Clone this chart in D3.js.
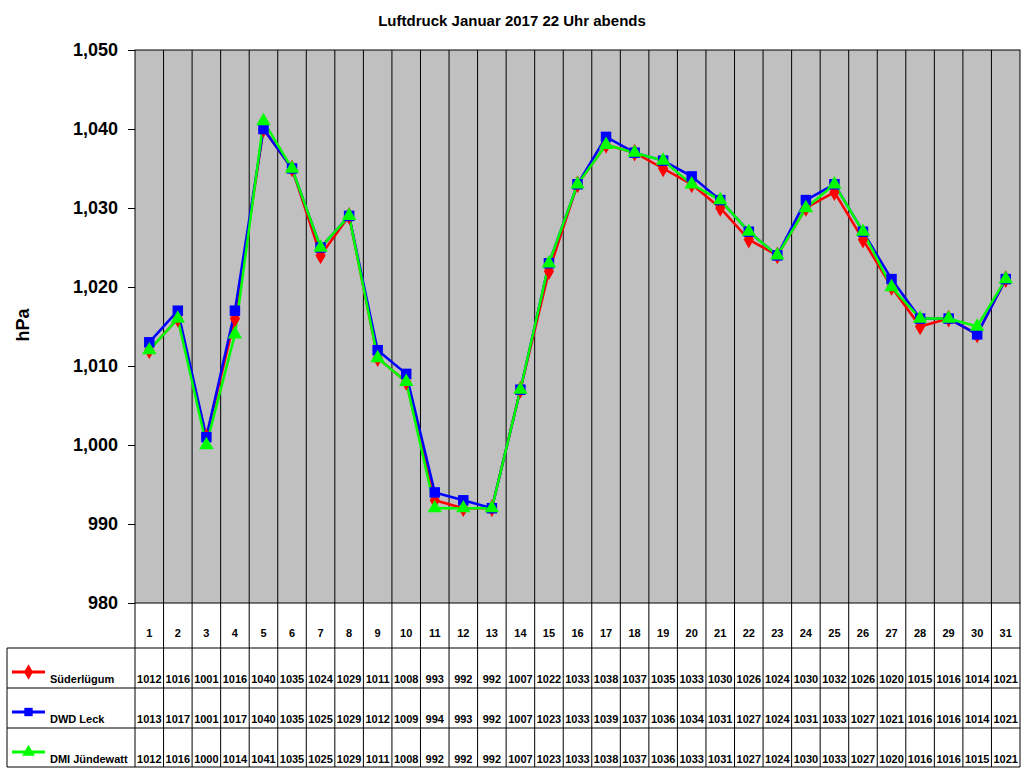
<!DOCTYPE html>
<html>
<head>
<meta charset="utf-8">
<script src="https://cdn.jsdelivr.net/npm/d3@7"></script>
<style>body{margin:0;background:#fff}svg{font-family:Arial,"Liberation Sans",sans-serif}</style>
</head>
<body>
<svg id="chart" width="1024" height="768"></svg>
<script>
const days = d3.range(1, 32);
const suederluegum = [1012,1016,1001,1016,1040,1035,1024,1029,1011,1008,993,992,992,1007,1022,1033,1038,1037,1035,1033,1030,1026,1024,1030,1032,1026,1020,1015,1016,1014,1021];
const dwdLeck = [1013,1017,1001,1017,1040,1035,1025,1029,1012,1009,994,993,992,1007,1023,1033,1039,1037,1036,1034,1031,1027,1024,1031,1033,1027,1021,1016,1016,1014,1021];
const dmiJuendewatt = [1012,1016,1000,1014,1041,1035,1025,1029,1011,1008,992,992,992,1007,1023,1033,1038,1037,1036,1033,1031,1027,1024,1030,1033,1027,1020,1016,1016,1015,1021];
const yTicks = [980,990,1000,1010,1020,1030,1040,1050];

const series = [
  {name: "Süderlügum", values: suederluegum, color: "#ff0000", shape: "diamond"},
  {name: "DWD Leck", values: dwdLeck, color: "#0000ff", shape: "square"},
  {name: "DMI Jündewatt", values: dmiJuendewatt, color: "#00ff00", shape: "triangle"}
];

const svg = d3.select("#chart");
const L = 135, R = 1020, T = 50, B = 603;
const x = d3.scaleBand().domain(days).range([L, R]);
const y = d3.scaleLinear().domain([980, 1050]).range([B, T]);

svg.append("text").attr("x", 512).attr("y", 26).attr("text-anchor", "middle")
  .attr("font-size", 15).attr("font-weight", "bold").text("Luftdruck Januar 2017 22 Uhr abends");

svg.append("rect").attr("x", L).attr("y", T).attr("width", R - L).attr("height", B - T)
  .attr("fill", "#c0c0c0").attr("stroke", "#000");

// vertical grid
svg.append("g").selectAll("line").data(days.slice(1)).join("line")
  .attr("x1", d => x(d)).attr("x2", d => x(d)).attr("y1", T).attr("y2", B)
  .attr("stroke", "#000").attr("stroke-width", 1);

// y axis
const yAxis = svg.append("g").attr("transform", `translate(${L},0)`)
  .call(d3.axisLeft(y).tickValues(yTicks).tickSize(7).tickPadding(10));
yAxis.select(".domain").remove();
yAxis.selectAll("text").attr("font-size", 18).attr("font-weight", "bold").attr("fill", "#000")
  .style("font-family", "Arial, Liberation Sans, sans-serif");

svg.append("text").attr("transform", "translate(29,325) rotate(-90)").attr("text-anchor", "middle")
  .attr("font-size", 18).attr("font-weight", "bold").text("hPa");

// lines
const line = d3.line().x((d, i) => x(days[i]) + x.bandwidth() / 2).y(d => y(d));
const sym = {diamond: d3.symbolDiamond, square: d3.symbolSquare, triangle: d3.symbolTriangle};
series.forEach(s => {
  svg.append("path").attr("d", line(s.values)).attr("fill", "none")
    .attr("stroke", s.color).attr("stroke-width", 2.5);
});
series.forEach(s => {
  svg.append("g").selectAll("path").data(s.values).join("path")
    .attr("transform", (d, i) => `translate(${x(days[i]) + x.bandwidth() / 2},${y(d)})`)
    .attr("d", d3.symbol(sym[s.shape], s.shape === "square" ? 110 : 90)).attr("fill", s.color);
});

// data table
const rowTop = [648, 688, 728], rowH = 40, tableBottom = 767;
const tg = svg.append("g").attr("font-weight", "bold").attr("fill", "#000");
// header
tg.append("g").selectAll("line").data(days.concat([32])).join("line")
  .attr("x1", (d, i) => i === 31 ? R : x(d)).attr("x2", (d, i) => i === 31 ? R : x(d))
  .attr("y1", B).attr("y2", tableBottom).attr("stroke", "#000");
tg.append("g").selectAll("text").data(days).join("text")
  .attr("x", d => x(d) + x.bandwidth() / 2).attr("y", 637).attr("text-anchor", "middle")
  .attr("font-size", 11).text(d => d);
tg.append("line").attr("x1", 7).attr("x2", 7).attr("y1", 648).attr("y2", tableBottom).attr("stroke", "#000");
[648, 688, 728, tableBottom].forEach(yy =>
  tg.append("line").attr("x1", 7).attr("x2", R).attr("y1", yy).attr("y2", yy).attr("stroke", "#000"));
series.forEach((s, k) => {
  const y0 = rowTop[k];
  tg.append("line").attr("x1", 12).attr("x2", 45).attr("y1", y0 + 24).attr("y2", y0 + 24)
    .attr("stroke", s.color).attr("stroke-width", 3);
  tg.append("path").attr("transform", `translate(28.5,${y0 + 24})`)
    .attr("d", d3.symbol(sym[s.shape], 70)()).attr("fill", s.color);
  tg.append("text").attr("x", 50).attr("y", y0 + 35).attr("font-size", 11).text(s.name);
  tg.append("g").selectAll("text").data(s.values).join("text")
    .attr("x", (d, i) => x(days[i]) + x.bandwidth() / 2).attr("y", y0 + 35)
    .attr("text-anchor", "middle").attr("font-size", 11).text(d => d);
});
</script>
</body>
</html>
